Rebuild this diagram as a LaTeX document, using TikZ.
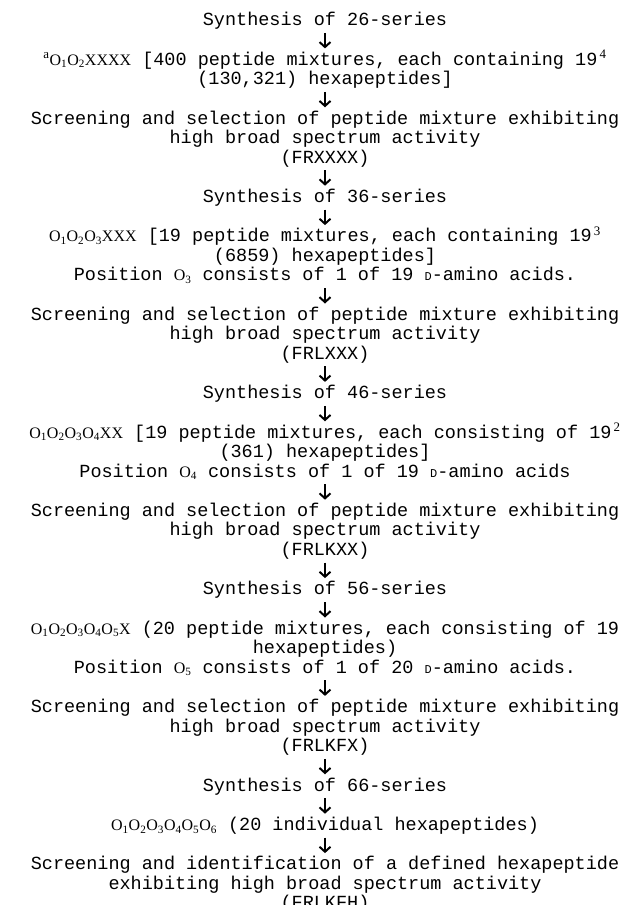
\documentclass[tikz,border=0pt]{standalone}
\usepackage{fontspec}
\setmainfont{Liberation Mono}
\newfontfamily\serf{Liberation Serif}
\usepackage{tikz}
\usetikzlibrary{arrows.meta, positioning}

\newcommand{\sline}{\rule[-5pt]{0pt}{19.5pt}}
\newcommand{\seq}[1]{{\serf\fontsize{16}{19.5}\selectfont #1}}
\newcommand{\opos}[1]{\seq{O\textsubscript{#1}}}
\newcommand{\dsc}{{\fontsize{12}{12}\selectfont D}}
\newcommand{\spow}[1]{\smash{\textsuperscript{\serf #1}}}

\begin{document}
\begin{tikzpicture}[node distance=19.5pt,
    blk/.style={align=center, inner sep=0pt, font=\fontsize{18.5}{19.5}\selectfont},
    flow/.style={-{Straight Barb[length=5pt,width=11pt,line width=2pt]}, line width=1.8pt, shorten <=2pt, shorten >=2pt}]
    \useasboundingbox (0,0) rectangle (625pt,-905pt);
    % 26-series
    \node[blk, anchor=north] (s26) at (325pt,-11pt) {\sline Synthesis of 26-series};
    \node[blk] (m26) [below=of s26] {\sline\spow{a}\opos{1}\opos{2}\seq{XXXX} [400 peptide mixtures, each containing 19\spow{\,4}\\
        \sline(130,321) hexapeptides]};
    \node[blk] (f26) [below=of m26] {\sline Screening and selection of peptide mixture exhibiting\\
        \sline high broad spectrum activity\\ \sline(FRXXXX)};
    % 36-series
    \node[blk] (s36) [below=of f26] {\sline Synthesis of 36-series};
    \node[blk] (m36) [below=of s36] {\sline\opos{1}\opos{2}\opos{3}\seq{XXX} [19 peptide mixtures, each containing 19\spow{\,3}\\
        \sline(6859) hexapeptides]\\
        \sline Position \opos{3} consists of 1 of 19 \dsc-amino acids.};
    \node[blk] (f36) [below=of m36] {\sline Screening and selection of peptide mixture exhibiting\\
        \sline high broad spectrum activity\\ \sline(FRLXXX)};
    % 46-series
    \node[blk] (s46) [below=of f36] {\sline Synthesis of 46-series};
    \node[blk] (m46) [below=of s46] {\sline\opos{1}\opos{2}\opos{3}\opos{4}\seq{XX} [19 peptide mixtures, each consisting of 19\spow{\,2}\\
        \sline(361) hexapeptides]\\
        \sline Position \opos{4} consists of 1 of 19 \dsc-amino acids};
    \node[blk] (f46) [below=of m46] {\sline Screening and selection of peptide mixture exhibiting\\
        \sline high broad spectrum activity\\ \sline(FRLKXX)};
    % 56-series
    \node[blk] (s56) [below=of f46] {\sline Synthesis of 56-series};
    \node[blk] (m56) [below=of s56] {\sline\opos{1}\opos{2}\opos{3}\opos{4}\opos{5}\seq{X} (20 peptide mixtures, each consisting of 19\\
        \sline hexapeptides)\\
        \sline Position \opos{5} consists of 1 of 20 \dsc-amino acids.};
    \node[blk] (f56) [below=of m56] {\sline Screening and selection of peptide mixture exhibiting\\
        \sline high broad spectrum activity\\ \sline(FRLKFX)};
    % 66-series
    \node[blk] (s66) [below=of f56] {\sline Synthesis of 66-series};
    \node[blk] (m66) [below=of s66] {\sline\opos{1}\opos{2}\opos{3}\opos{4}\opos{5}\opos{6} (20 individual hexapeptides)};
    \node[blk] (f66) [below=of m66] {\sline Screening and identification of a defined hexapeptide\\
        \sline exhibiting high broad spectrum activity\\ \sline(FRLKFH)};

    \foreach \a/\b in {s26/m26, m26/f26, f26/s36, s36/m36, m36/f36, f36/s46, s46/m46, m46/f46,
        f46/s56, s56/m56, m56/f56, f56/s66, s66/m66, m66/f66}
        \draw[flow] (\a) -- (\b);
\end{tikzpicture}
\end{document}
